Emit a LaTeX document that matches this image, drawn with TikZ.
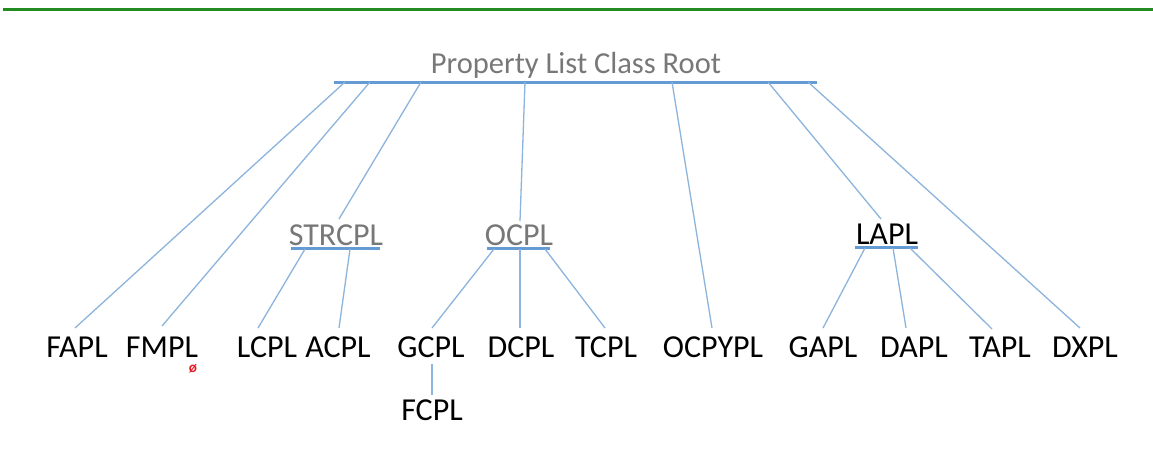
\documentclass[tikz,border=0pt]{standalone}
\usepackage{fontspec}
\setmainfont{Carlito}
\definecolor{topgreen}{RGB}{34,139,34}
\definecolor{barblue}{RGB}{100,155,210}
\definecolor{lineblue}{RGB}{140,180,220}
\definecolor{labgray}{RGB}{120,120,120}
\definecolor{markred}{RGB}{230,30,40}
\tikzset{
  lab/.style={anchor=base, inner sep=0pt, font=\fontsize{32}{38}\selectfont, text=black},
  graylab/.style={lab, text=labgray},
  bar/.style={draw=barblue, line width=3pt},
  conn/.style={draw=lineblue, line width=1.3pt},
}
\begin{document}
\begin{tikzpicture}[x=1pt,y=-1pt]
\useasboundingbox (0,0) rectangle (1153,458);
\fill[white] (0,0) rectangle (1153,458);
% top green rule
\coordinate (gl) at (3,9.5);
\coordinate (gr) at (1153,9.5);
\draw[topgreen, line width=3.2pt] (gl) -- (gr);

% root
\node[graylab, font=\fontsize{30.5}{36}\selectfont] (root) at (576,73) {Property List Class Root};
\coordinate (rbL) at (334,82);
\coordinate (rbR) at (817,82);
\draw[bar] (rbL) -- (rbR);

% intermediate labels
\node[graylab] (strcpl) at (336,245) {STRCPL};
\node[graylab] (ocpl) at (519,245) {OCPL};
\node[lab] (lapl) at (887,244) {LAPL};
\coordinate (sbL) at (291,248.5);
\coordinate (sbR) at (380,248.5);
\coordinate (obL) at (487,248.5);
\coordinate (obR) at (550,248.5);
\coordinate (lbL) at (855,247.5);
\coordinate (lbR) at (918,247.5);
\draw[bar] (sbL) -- (sbR);
\draw[bar] (obL) -- (obR);
\draw[bar] (lbL) -- (lbR);

% leaves
\node[lab] (fapl) at (77,357) {FAPL};
\node[lab] (fmpl) at (162,357) {FMPL};
\node[lab] (lcpl) at (267,357) {LCPL};
\node[lab] (acpl) at (338,357) {ACPL};
\node[lab] (gcpl) at (431,357) {GCPL};
\node[lab] (dcpl) at (521,357) {DCPL};
\node[lab] (tcpl) at (606,357) {TCPL};
\node[lab] (ocpypl) at (713,357) {OCPYPL};
\node[lab] (gapl) at (823,357) {GAPL};
\node[lab] (dapl) at (914,357) {DAPL};
\node[lab] (tapl) at (1000,357) {TAPL};
\node[lab] (dxpl) at (1085,357) {DXPL};
\node[lab] (fcpl) at (432,420) {FCPL};
\node[inner sep=0pt, text=markred, font=\fontsize{15}{15}\selectfont\bfseries] (mark) at (193,369) {ø};

% root branches
\coordinate (r1) at (345,82);
\coordinate (r2) at (370,82);
\coordinate (r3) at (421,82);
\coordinate (r4) at (525,82);
\coordinate (r5) at (672,82);
\coordinate (r6) at (768,82);
\coordinate (r7) at (808,82);
\coordinate (e1) at (75,328);
\coordinate (e2) at (162,326);
\coordinate (e3) at (339,219);
\coordinate (e4) at (520,221);
\coordinate (e5) at (712,328);
\coordinate (e6) at (881,219);
\coordinate (e7) at (1080,328);
\draw[conn] (r1) -- (e1);
\draw[conn] (r2) -- (e2);
\draw[conn] (r3) -- (e3);
\draw[conn] (r4) -- (e4);
\draw[conn] (r5) -- (e5);
\draw[conn] (r6) -- (e6);
\draw[conn] (r7) -- (e7);

% STRCPL children
\coordinate (s1) at (305,249);
\coordinate (s2) at (350,249);
\coordinate (se1) at (258,328);
\coordinate (se2) at (339,328);
\draw[conn] (s1) -- (se1);
\draw[conn] (s2) -- (se2);

% OCPL children
\coordinate (o1) at (494,249);
\coordinate (o2) at (520,249);
\coordinate (o3) at (545,249);
\coordinate (oe1) at (432,328);
\coordinate (oe2) at (520,328);
\coordinate (oe3) at (605,328);
\draw[conn] (o1) -- (oe1);
\draw[conn] (o2) -- (oe2);
\draw[conn] (o3) -- (oe3);

% LAPL children
\coordinate (l1) at (865,248);
\coordinate (l2) at (893,248);
\coordinate (l3) at (910,248);
\coordinate (le1) at (823,328);
\coordinate (le2) at (906,328);
\coordinate (le3) at (992,329);
\draw[conn] (l1) -- (le1);
\draw[conn] (l2) -- (le2);
\draw[conn] (l3) -- (le3);

% GCPL to FCPL
\coordinate (g1) at (432,364);
\coordinate (g2) at (432,395);
\draw[conn] (g1) -- (g2);
\end{tikzpicture}
\end{document}
